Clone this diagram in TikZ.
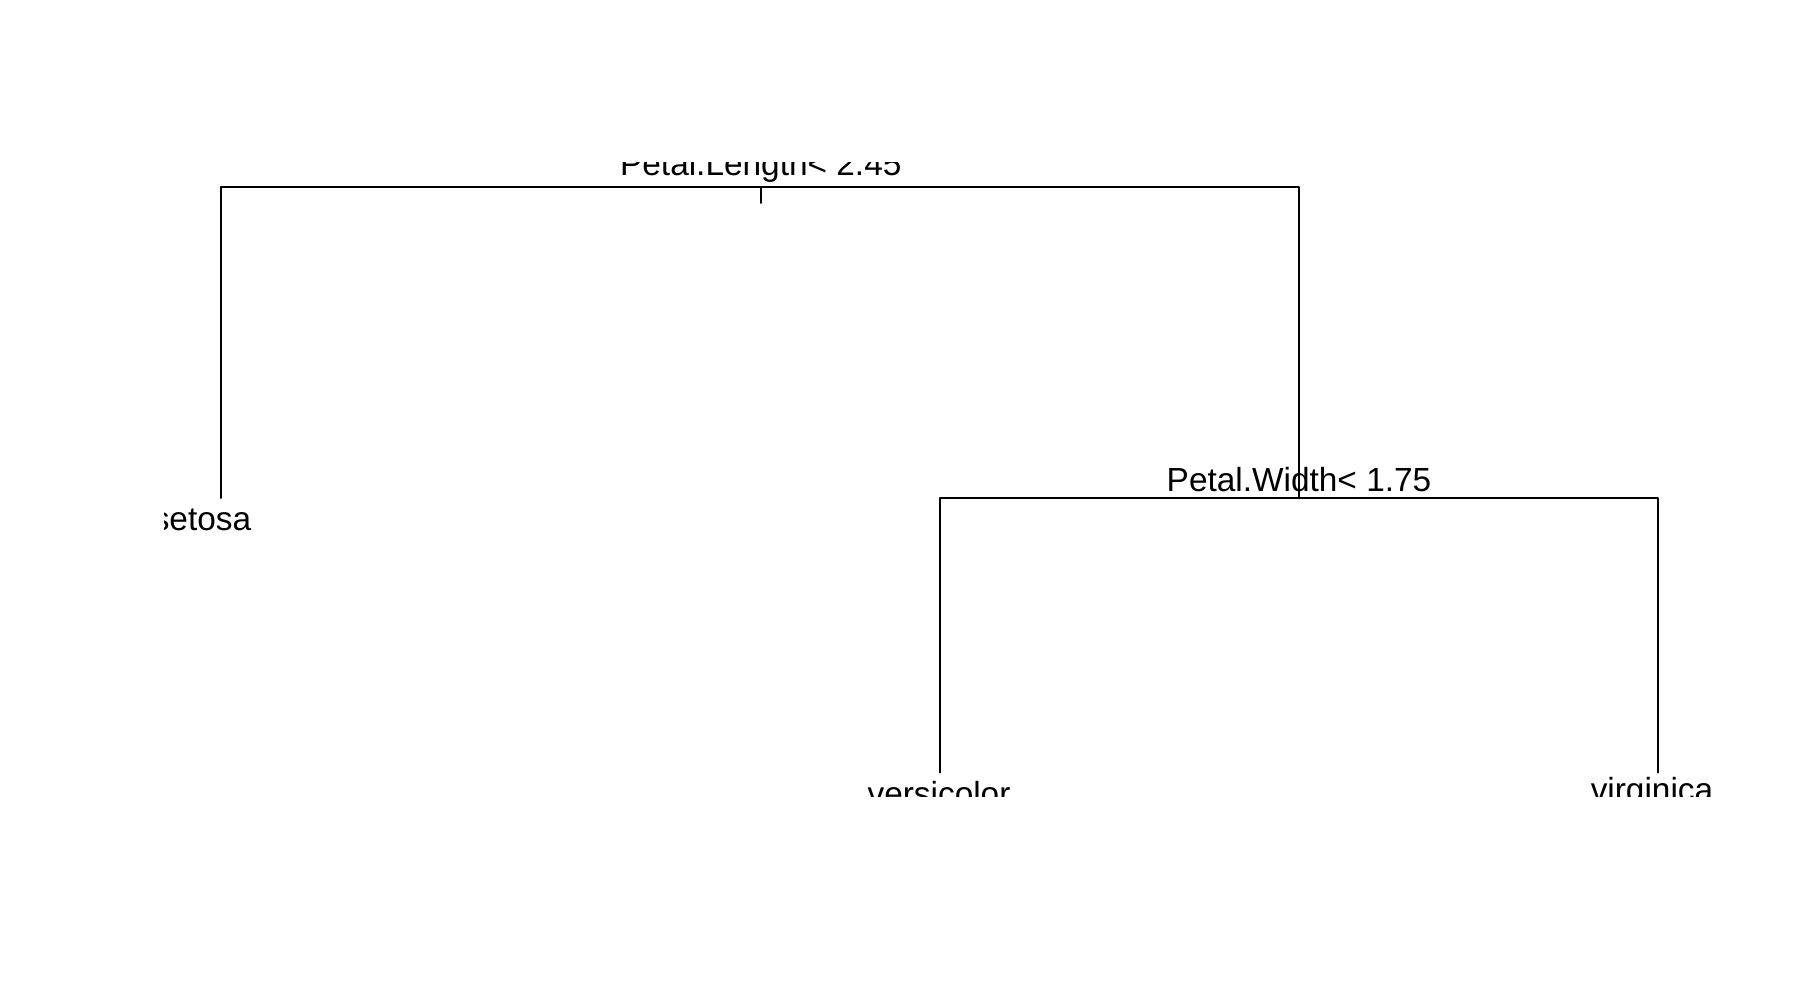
\documentclass[tikz,border=0pt]{standalone}
\usepackage{fontspec}
\setmainfont{Liberation Sans}
\begin{document}
\begin{tikzpicture}[x=1pt,y=-1pt,
  edge/.style={line width=2pt,line cap=round,line join=round,black},
  lbl/.style={inner sep=0pt,outer sep=0pt,anchor=base,font=\fontsize{33.4}{40}\selectfont}]
\useasboundingbox[fill=white] (0,0) rectangle (1800,1000);
\begin{scope}
\clip (164,162.7) rectangle (1760,796.5);
% tree nodes
\coordinate (n1) at (760.5,187.3);
\coordinate (t1) at (760.5,203);
\coordinate (n2) at (221.3,498);
\coordinate (n3) at (1299,498.3);
\coordinate (n4) at (940,772.7);
\coordinate (n5) at (1658.3,772.7);
% branches
\draw[edge] (n2) |- (n1) -| (n3);
\draw[edge] (n1) -- (t1);
\draw[edge] (n4) |- (n3) -| (n5);
% labels
\node[lbl] (s1) at (760.8,176) {Petal.Length< 2.45};
\node[lbl] (s2) at (1299,491) {Petal.Width< 1.75};
\node[lbl] (l1) at (202,530) {setosa};
\node[lbl] (l2) at (939,805) {versicolor};
\node[lbl] (l3) at (1652,801) {virginica};
\end{scope}
\end{tikzpicture}
\end{document}
